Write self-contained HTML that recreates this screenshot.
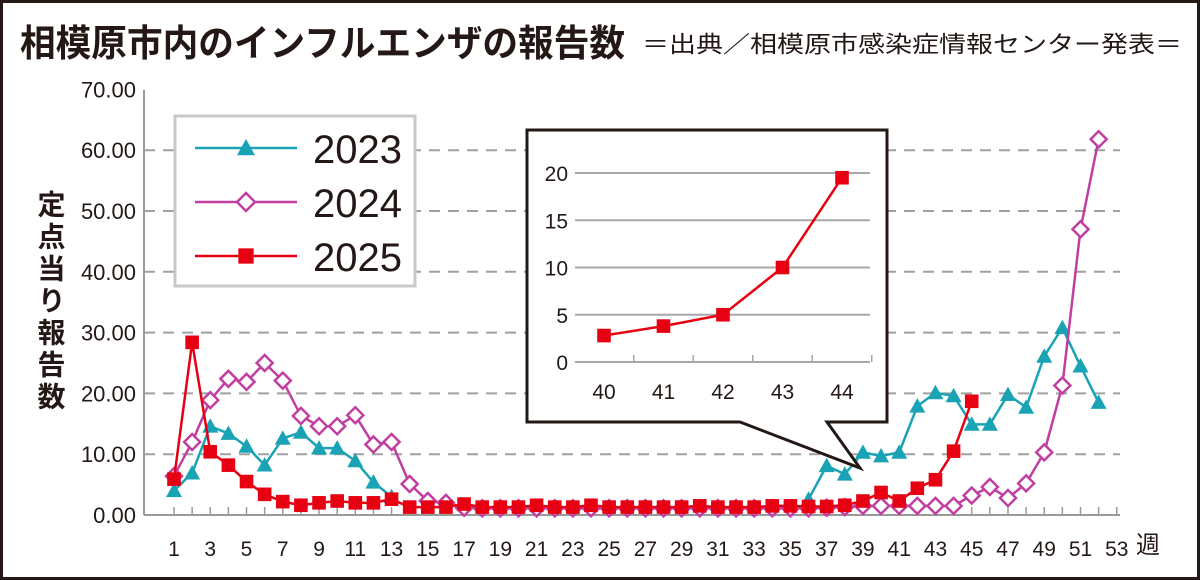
<!DOCTYPE html>
<html><head><meta charset="utf-8"><style>
body{margin:0;background:#fff}
svg{display:block;font-family:"Liberation Sans","Noto Sans CJK JP",sans-serif}
</style></head><body>
<svg id="c" width="1200" height="580" viewBox="0 0 1200 580">
<rect x="1.5" y="1.5" width="1197" height="577" fill="#fff" stroke="#231815" stroke-width="3"/>
<text x="20" y="56" font-size="37" font-weight="bold" fill="#231815" textLength="605" lengthAdjust="spacingAndGlyphs">相模原市内のインフルエンザの報告数</text>
<text x="642" y="52" font-size="23" fill="#231815" textLength="540" lengthAdjust="spacingAndGlyphs">＝出典／相模原市感染症情報センター発表＝</text>
<text font-size="28" font-weight="bold" fill="#231815" style="writing-mode:vertical-rl;letter-spacing:4px" x="50" y="190">定点当り報告数</text>
<text x="1148" y="553" font-size="24" fill="#231815" text-anchor="middle">週</text>
<g id="grid"></g><g id="series"></g>
<g id="legend">
<rect x="175" y="116" width="240" height="170" fill="#fff" stroke="#c8c8c8" stroke-width="3"/>
</g>
<g id="inset">
<polygon points="527,130 887,130 887,422 827,422 860,468 740,422 527,422" fill="#fff" stroke="#231815" stroke-width="3"/>
</g>
</svg>
<script>
const weeks=[];for(let i=1;i<=52;i++)weeks.push(i);
const yTicks=[0,10,20,30,40,50,60,70];
const xTickLabels=[1,3,5,7,9,11,13,15,17,19,21,23,25,27,29,31,33,35,37,39,41,43,45,47,49,51,53];
const s2023=[4.0,6.9,14.6,13.4,11.3,8.2,12.6,13.6,11.0,11.0,8.9,5.4,3.0,null,null,null,null,null,null,null,null,null,null,null,null,null,null,null,null,null,null,null,null,null,null,2.6,8.1,6.7,10.3,9.7,10.3,17.9,20.1,19.6,14.9,14.9,19.8,17.7,26.1,30.8,24.5,18.5];
const s2024=[6.4,12.0,18.9,22.4,21.9,25.0,22.1,16.3,14.6,14.6,16.4,11.6,12.0,5.1,2.3,2.0,1.2,1.1,1.1,1.1,1.1,1.1,1.1,1.1,1.1,1.1,1.1,1.1,1.1,1.1,1.1,1.1,1.1,1.1,1.1,1.1,1.2,1.3,1.5,1.5,1.5,1.5,1.5,1.5,3.2,4.6,2.8,5.2,10.3,21.3,47.0,61.8];
const s2025=[5.9,28.4,10.4,8.2,5.5,3.4,2.2,1.6,2.0,2.3,2.0,2.0,2.6,1.3,1.3,1.3,1.8,1.3,1.3,1.3,1.6,1.3,1.3,1.6,1.3,1.3,1.3,1.3,1.3,1.5,1.3,1.3,1.3,1.5,1.5,1.4,1.4,1.6,2.3,3.7,2.3,4.4,5.8,10.5,18.7];
const insetWeeks=[40,41,42,43,44];
const insetValues=[2.8,3.8,5.0,10.0,19.5];
const insetYTicks=[0,5,10,15,20];

const NS="http://www.w3.org/2000/svg";
function mk(tag,attrs,parent,txt){const e=document.createElementNS(NS,tag);for(const k in attrs)e.setAttribute(k,attrs[k]);if(txt!==undefined)e.textContent=txt;parent.appendChild(e);return e;}
const xS=w=>174+(w-1)*18.13;
const yS=v=>515-v*6.08;
const grid=document.getElementById('grid'),ser=document.getElementById('series');
yTicks.forEach(t=>{
 if(t>0&&t<70){const l=mk('line',{x1:144,x2:1120,y1:yS(t),y2:yS(t),stroke:'#a0a0a0','stroke-width':2,'stroke-dasharray':'11 8'},grid);
 
 }
 const tx=mk('text',{x:136,y:yS(t)+8,'font-size':22,'text-anchor':'end',fill:'#231815'},grid,t.toFixed(2));
 
 
});
let ax=mk('line',{x1:144,x2:144,y1:90,y2:515,stroke:'#9a9a9a','stroke-width':2},grid);


ax=mk('line',{x1:144,x2:1120,y1:515,y2:515,stroke:'#9a9a9a','stroke-width':2},grid);


for(let w=1;w<=53;w++){const t=mk('line',{x1:xS(w),x2:xS(w),y1:507,y2:515,stroke:'#9a9a9a','stroke-width':1.5},grid);
 
 }
xTickLabels.forEach(w=>{const t=mk('text',{x:xS(w),y:556,'font-size':21,'text-anchor':'middle',fill:'#231815'},grid,w);
 
 });

function marker(type,x,y,color,parent,sz){
 let m;
 if(type==='tri')m=mk('polygon',{points:`${x},${y-sz} ${x-sz},${y+sz*0.8} ${x+sz},${y+sz*0.8}`,fill:color},parent);
 else if(type==='dia')m=mk('polygon',{points:`${x},${y-sz} ${x+sz},${y} ${x},${y+sz} ${x-sz},${y}`,fill:'#fff',stroke:color,'stroke-width':2.5},parent);
 else m=mk('rect',{x:x-sz*0.85,y:y-sz*0.85,width:sz*1.7,height:sz*1.7,fill:color},parent);
 return m;
}
function drawSeries(vals,color,type,name){
 const g=mk('g',{},ser);
 
 
 let d='',pen=false;
 vals.forEach((v,i)=>{if(v==null){pen=false;return;}d+=(pen?'L':'M')+xS(weeks[i])+','+yS(v)+' ';pen=true;});
 mk('path',{d:d,fill:'none',stroke:color,'stroke-width':2.5},g);
 vals.forEach((v,i)=>{if(v==null)return;const m=marker(type,xS(weeks[i]),yS(v),color,g,8);
  
  });
}
drawSeries(s2023,'#1aa3b5','tri','2023');
drawSeries(s2024,'#c03fa0','dia','2024');
drawSeries(s2025,'#e60012','sq','2025');

const lg=document.getElementById('legend');
[['2023','#1aa3b5','tri',148],['2024','#c03fa0','dia',202],['2025','#e60012','sq',256]].forEach(([n,c,t,y])=>{
 const g=mk('g',{},lg);
 
 
 mk('line',{x1:195,x2:297,y1:y,y2:y,stroke:c,'stroke-width':2.5},g);
 marker(t,246,y,c,g,9);
 mk('text',{x:313,y:y+15,'font-size':40,fill:'#231815'},g,n);
});

const ins=document.getElementById('inset');
const ixS=w=>604+(w-40)*59.5;
const iyS=v=>362-v*9.45;
insetYTicks.forEach(t=>{
 const l=mk('line',{x1:575,x2:870,y1:iyS(t),y2:iyS(t),stroke:'#a8a8a8','stroke-width':2},ins);
 
 
 const tx=mk('text',{x:568,y:iyS(t)+8,'font-size':21,'text-anchor':'end',fill:'#231815'},ins,t);
 
 
});
insetWeeks.forEach(w=>{
 const t=mk('line',{x1:ixS(w)+29.75,x2:ixS(w)+29.75,y1:355,y2:362,stroke:'#a8a8a8','stroke-width':1.5},ins);
 
 
 const tx=mk('text',{x:ixS(w),y:399,'font-size':21,'text-anchor':'middle',fill:'#231815'},ins,w);
 
 
});
let d='';insetValues.forEach((v,i)=>{d+=(i?'L':'M')+ixS(insetWeeks[i])+','+iyS(v)+' ';});
const ip=mk('path',{d:d,fill:'none',stroke:'#e60012','stroke-width':2.5},ins);


insetValues.forEach((v,i)=>{const m=marker('sq',ixS(insetWeeks[i]),iyS(v),'#e60012',ins,8);
 
 });
</script>
</body></html>
